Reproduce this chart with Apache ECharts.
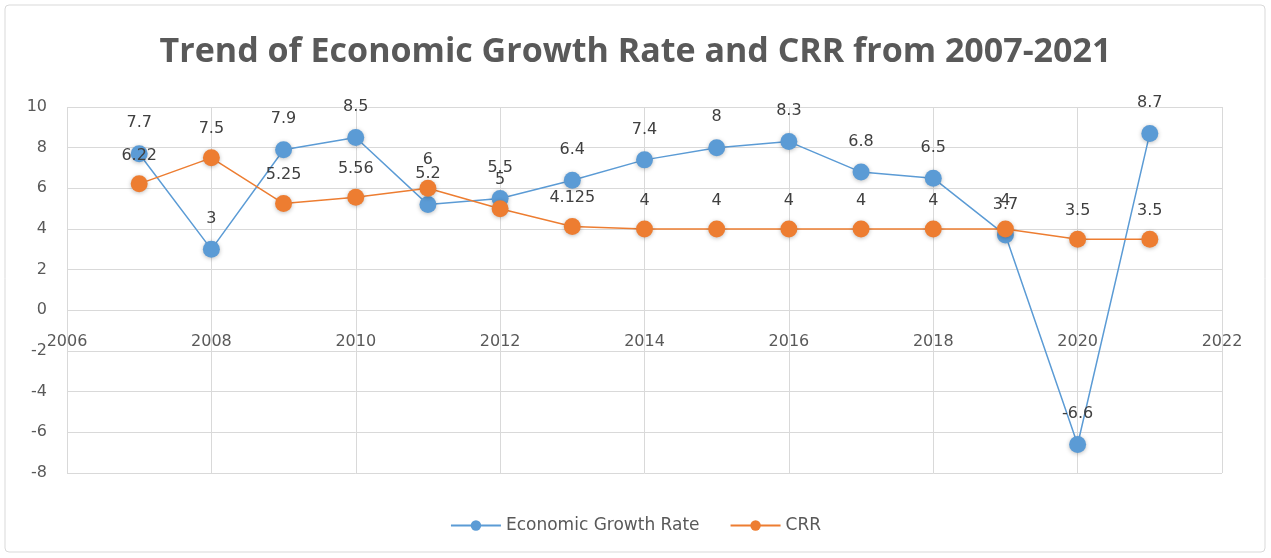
<!DOCTYPE html>
<html>
<head>
<meta charset="utf-8">
<script src="https://cdn.jsdelivr.net/npm/echarts@6/dist/echarts.min.js"></script>
<style>
  html, body { margin: 0; padding: 0; background: #ffffff; }
  #chart { width: 1271px; height: 558px; }
</style>
</head>
<body>
<div id="chart"></div>
<script>
// Years covered by both series
const years = [2007, 2008, 2009, 2010, 2011, 2012, 2013, 2014, 2015, 2016, 2017, 2018, 2019, 2020, 2021];
// Annual economic growth rate (%)
const growthRate = [7.7, 3, 7.9, 8.5, 5.2, 5.5, 6.4, 7.4, 8, 8.3, 6.8, 6.5, 3.7, -6.6, 8.7];
// Cash reserve ratio (%)
const crr = [6.22, 7.5, 5.25, 5.56, 6, 5, 4.125, 4, 4, 4, 4, 4, 4, 3.5, 3.5];

const seriesNames = ['Economic Growth Rate', 'CRR'];
const titleText = 'Trend of Economic Growth Rate and CRR from 2007-2021';

const pairs = (xs, ys) => xs.map((x, i) => [x, ys[i]]);

const chart = echarts.init(document.getElementById('chart'), null, { renderer: 'canvas' });

const labelFont = { fontFamily: 'DejaVu Sans', fontSize: 16, color: '#404040' };
const markerShadow = { shadowBlur: 4, shadowColor: 'rgba(0,0,0,0.25)', shadowOffsetY: 1 };

// Plot box geometry; the x axis is pulled up onto the y = 0 line
const gridTop = 107, gridBottom = 85, yMin = -8, yMax = 10;
const plotHeight = 558 - gridTop - gridBottom;
const zeroOffset = -plotHeight * (0 - yMin) / (yMax - yMin);

chart.setOption({
  backgroundColor: '#ffffff',
  animation: false,
  graphic: [{
    type: 'rect',
    shape: { x: 5, y: 5, width: 1260, height: 547, r: 4 },
    style: { fill: 'none', stroke: '#d9d9d9', lineWidth: 1 },
    silent: true
  }],
  title: {
    text: titleText,
    left: 'center',
    top: 30,
    textStyle: {
      fontFamily: 'Open Sans',
      fontWeight: 'bold',
      fontSize: 34,
      color: '#595959'
    }
  },
  legend: {
    data: seriesNames,
    bottom: 19,
    left: 'center',
    itemWidth: 50,
    itemHeight: 13,
    itemGap: 30,
    textStyle: { fontFamily: 'DejaVu Sans', fontSize: 17, color: '#595959' }
  },
  grid: { left: 67, right: 49, top: gridTop, bottom: gridBottom, containLabel: false },
  xAxis: {
    type: 'value',
    min: 2006,
    max: 2022,
    interval: 2,
    position: 'bottom',
    offset: zeroOffset,
    axisLine: { show: false },
    axisTick: { show: false },
    splitLine: { show: true, lineStyle: { color: '#d9d9d9' } },
    axisLabel: {
      fontFamily: 'DejaVu Sans', fontSize: 16, color: '#595959', margin: 24,
      formatter: v => String(v)
    }
  },
  yAxis: {
    type: 'value',
    min: yMin,
    max: yMax,
    interval: 2,
    axisLine: { show: false },
    axisTick: { show: false },
    splitLine: { show: true, lineStyle: { color: '#d9d9d9' } },
    axisLabel: { fontFamily: 'DejaVu Sans', fontSize: 16, color: '#595959', margin: 20 }
  },
  series: [
    {
      name: seriesNames[0],
      type: 'line',
      data: pairs(years, growthRate),
      symbol: 'circle',
      symbolSize: 17,
      lineStyle: { color: '#5b9bd5', width: 1.5 },
      itemStyle: { color: '#5b9bd5', ...markerShadow },
      label: { show: true, position: 'top', distance: 14, ...labelFont },
      z: 2
    },
    {
      name: seriesNames[1],
      type: 'line',
      data: pairs(years, crr),
      symbol: 'circle',
      symbolSize: 17,
      lineStyle: { color: '#ed7d31', width: 1.5 },
      itemStyle: { color: '#ed7d31', ...markerShadow },
      label: { show: true, position: 'top', distance: 12, ...labelFont },
      z: 3
    }
  ]
});
</script>
</body>
</html>
